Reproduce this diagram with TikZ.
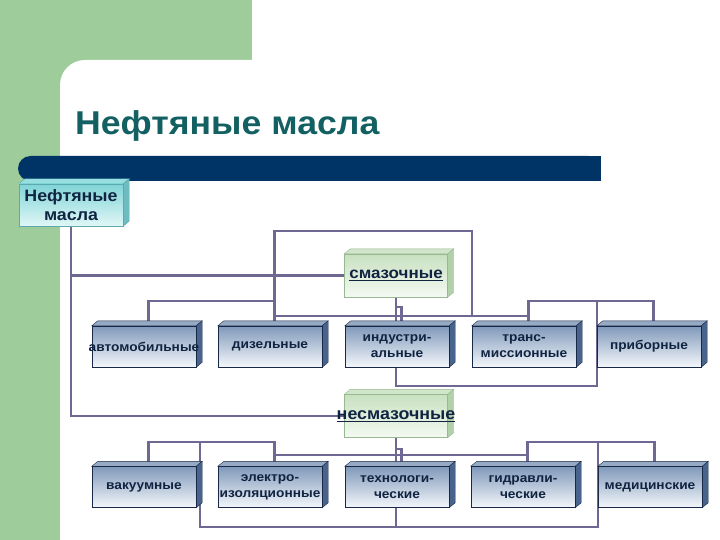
\documentclass[tikz,border=0pt]{standalone}
\usepackage{fontspec}
\setmainfont[FakeStretch=1.08]{Liberation Sans}
\usetikzlibrary{backgrounds}

\definecolor{pagegreen}{RGB}{158,204,154}
\definecolor{navybar}{RGB}{0,51,102}
\definecolor{titleteal}{RGB}{18,96,98}
\definecolor{linkgray}{RGB}{110,104,146}
\definecolor{textnavy}{RGB}{16,36,66}
% box colours: front top / front bottom / top face / side face / border
\definecolor{bluehi}{RGB}{128,153,186}
\definecolor{bluelo}{RGB}{244,247,251}
\definecolor{bluecap}{RGB}{150,170,196}
\definecolor{blueside}{RGB}{72,100,140}
\definecolor{blueedge}{RGB}{25,40,70}
\definecolor{greenhi}{RGB}{200,224,192}
\definecolor{greenlo}{RGB}{244,250,242}
\definecolor{greencap}{RGB}{208,229,201}
\definecolor{greenside}{RGB}{178,208,170}
\definecolor{greenedge}{RGB}{150,185,145}
\definecolor{cyanhi}{RGB}{128,212,214}
\definecolor{cyanlo}{RGB}{224,247,247}
\definecolor{cyancap}{RGB}{152,222,224}
\definecolor{cyanside}{RGB}{108,188,194}
\definecolor{cyanedge}{RGB}{90,170,175}

% text that may run past the box edges without widening the box
\newcommand{\overrun}[1]{\makebox[0pt]{#1}}

\pgfdeclarelayer{page}
\pgfdeclarelayer{faces}
\pgfsetlayers{page,background,faces,main}

\begin{document}
\begin{tikzpicture}[x=1pt, y=-1pt,
    % --- STYLES ---
    base/.style={draw, thin, align=center, inner sep=0pt, text=textnavy},
    itembox/.style={base, minimum width=104pt, minimum height=41pt, top color=bluehi, bottom color=bluelo, draw=blueedge, font=\fontsize{12.7}{16}\selectfont\bfseries},
    lubbox/.style={base, minimum width=103pt, minimum height=43pt, top color=greenhi, bottom color=greenlo, draw=greenedge},
    oilbox/.style={base, minimum width=104pt, minimum height=42pt, top color=cyanhi, bottom color=cyanlo, draw=cyanedge, font=\fontsize{16.5}{19}\selectfont\bfseries},
    blue cap/.style={fill=bluecap, draw=blueedge, thin},
    blue side/.style={fill=blueside, draw=blueedge, thin},
    green cap/.style={fill=greencap, draw=greenedge, thin},
    green side/.style={fill=greenside, draw=greenedge, thin},
    cyan cap/.style={fill=cyancap, draw=cyanedge, thin},
    cyan side/.style={fill=cyanside, draw=cyanedge, thin},
    link/.style={draw=linkgray, line width=2.2pt}
]
    \useasboundingbox (0,0) rectangle (720,540);

    % ==========================================
    % SLIDE BACKGROUND
    % ==========================================
    \begin{pgfonlayer}{page}
        \fill[pagegreen] (0,0) rectangle (720,540);
        \fill[white] (720,0) -| (252,60) -- (85,60) arc[start angle=-90, end angle=-180, radius=25] -- (60,540) -- (720,540) -- cycle;
        \fill[navybar, rounded corners=12.5pt] (18,156) rectangle (601,181);
        \fill[navybar] (580,156) rectangle (601,181);
    \end{pgfonlayer}

    \node[anchor=base west, text=titleteal, font=\fontsize{33}{38}\selectfont\bfseries, inner sep=0pt] (title) at (75,135) {Нефтяные масла};

    % ==========================================
    % BOXES
    % ==========================================
    \node[oilbox] (oils) at (71,205) {Нефтяные\\масла};
    \node[lubbox, font=\fontsize{15.7}{18}\selectfont\bfseries] (lub) at (396,275.5) {\underline{смазочные}};
    \node[lubbox, font=\fontsize{16.5}{19}\selectfont\bfseries] (nonlub) at (396,416) {\overrun{\underline{несмазочные}}};

    % lubricating oils
    \node[itembox] (auto)   at (144,346.5) {\overrun{автомобильные}};
    \node[itembox] (diesel) at (270,346.5) {дизельные};
    \node[itembox] (indus)  at (397,346.5) {индустри-\\альные};
    \node[itembox] (trans)  at (524,346.5) {транс-\\миссионные};
    \node[itembox] (instr)  at (649,346.5) {приборные};

    % non-lubricating oils
    \node[itembox] (vac)  at (144,487) {вакуумные};
    \node[itembox] (elec) at (270,487) {электро-\\\overrun{изоляционные}};
    \node[itembox] (tech) at (397,487) {технологи-\\ческие};
    \node[itembox] (hydr) at (523,487) {гидравли-\\ческие};
    \node[itembox] (med)  at (650,487) {медицинские};

    % 3D top and side faces (under the text), plus the point where a line meets the top
    \begin{pgfonlayer}{faces}
    \foreach \n/\kind in {oils/cyan, lub/green, nonlub/green, auto/blue, diesel/blue, indus/blue, trans/blue, instr/blue, vac/blue, elec/blue, tech/blue, hydr/blue, med/blue} {
        \draw[\kind\space cap] (\n.north west) -- ++(6,-5) -- ([shift={(6,-5)}]\n.north east) -- (\n.north east) -- cycle;
        \draw[\kind\space side] (\n.north east) -- ++(6,-5) -- ([shift={(6,-5)}]\n.south east) -- (\n.south east) -- cycle;
        \coordinate (\n-top) at ([xshift=4.5pt]\n.north);
    }
    \end{pgfonlayer}

    % ==========================================
    % CONNECTORS
    % ==========================================
    \coordinate (loopU) at (0,231);
    \coordinate (busUa) at (0,301);
    \coordinate (kinkU) at (0,307);
    \coordinate (busUb) at (0,316);
    \coordinate (busUc) at (0,386);
    \coordinate (busLa) at (0,442);
    \coordinate (kinkL) at (0,449);
    \coordinate (busLb) at (0,455);
    \coordinate (busLc) at (0,527);

    \begin{scope}[on background layer]
        % from the root box
        \draw[link] (oils.south) |- (nonlub.west);
        \draw[link] (oils.south |- lub.west) -- (lub.west);

        % upper group
        \draw[link] (diesel-top) -- (diesel-top |- loopU) -| (trans.north west |- busUb);
        \draw[link] (auto-top) -- (auto-top |- busUa) -| (diesel-top |- busUb) -- (diesel-top);
        \draw[link] (diesel-top |- busUb) -| (trans-top |- busUa) -| (instr-top);
        \draw[link] (trans-top |- busUa) -- (trans-top);
        \draw[link] (lub.south) -- (lub.south |- busUc) -| (instr.north west |- busUa);
        \draw[link] (lub.south |- kinkU) -| (indus-top);

        % lower group
        \draw[link] (vac-top) -- (vac-top |- busLa) -| (elec-top |- busLb) -- (elec-top);
        \draw[link] (elec-top |- busLb) -| (hydr-top |- busLa) -| (med-top);
        \draw[link] (hydr-top |- busLa) -- (hydr-top);
        \draw[link] ([xshift=4pt]vac.north east |- busLa) -- ([xshift=4pt]vac.north east |- busLc) -| (med.north west |- busLa);
        \draw[link] (nonlub.south) -- (nonlub.south |- busLc);
        \draw[link] (nonlub.south |- kinkL) -| (tech-top);
    \end{scope}

\end{tikzpicture}
\end{document}
